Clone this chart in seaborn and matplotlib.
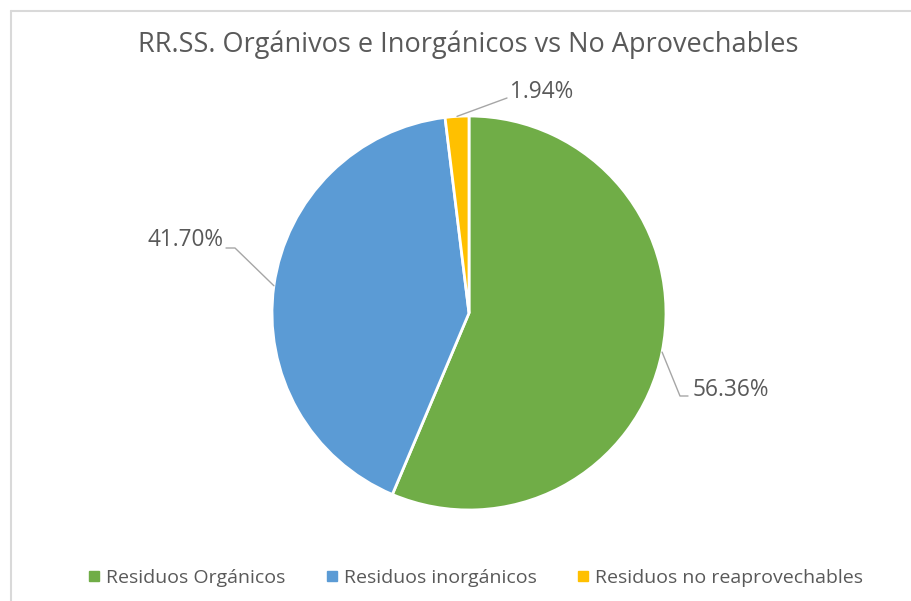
import matplotlib
matplotlib.use("Agg")
import numpy as np
import seaborn as sns
import matplotlib.pyplot as plt
from matplotlib.lines import Line2D

categories = ["Residuos Orgánicos", "Residuos inorgánicos", "Residuos no reaprovechables"]
values = [56.36, 41.70, 1.94]
labels = ["56.36%", "41.70%", "1.94%"]
colors = ["#70AD47", "#5B9BD5", "#FFC000"]

sns.set_style("white")
plt.rcParams['font.family'] = ['Open Sans', 'DejaVu Sans']
txt_color = "#595959"

fig = plt.figure(figsize=(9.11, 6.01), dpi=100)
ax = fig.add_axes([0, 0, 1, 1])

cx, cy, r = 469, 288, 197
wedges, _ = ax.pie(values, colors=colors, startangle=90, counterclock=False,
                   center=(cx, cy), radius=r, frame=True,
                   wedgeprops=dict(edgecolor="white", linewidth=2))
ax.set_xlim(0, 911)
ax.set_ylim(0, 601)
ax.set_aspect('equal')
ax.axis('off')

# label position, elbow of leader line, alignment
label_pos = [((693, 211), [(680, 205), (688, 205)], "left"),
             ((223, 361), [(235, 353), (226, 353)], "right"),
             ((510, 509), [(507, 503)], "left")]

for w, lab, (tpos, elbow, ha) in zip(wedges, labels, label_pos):
    mid = np.deg2rad((w.theta1 + w.theta2) / 2)
    px, py = cx + r * np.cos(mid), cy + r * np.sin(mid)
    xs = [px] + [e[0] for e in elbow]
    ys = [py] + [e[1] for e in elbow]
    ax.plot(xs, ys, color="#A6A6A6", lw=1)
    ax.text(tpos[0], tpos[1], lab, ha=ha, va="center", fontsize=16.3, color=txt_color)

fig.text(468 / 911, 1 - 45 / 601, "RR.SS. Orgánivos e Inorgánicos vs No Aprovechables",
         ha="center", va="center", fontsize=19.5, color=txt_color)

handles = [Line2D([], [], marker="s", ls="", color=c, markersize=7) for c in colors]
fig.legend(handles, categories, loc="center", bbox_to_anchor=(0.521, 1 - 578 / 601),
           ncol=3, frameon=False, fontsize=14, labelcolor=txt_color,
           handletextpad=0.2, columnspacing=2.0, handlelength=0.8)

# chart area frame
fig.add_artist(Line2D([11 / 911, 11 / 911], [0, 1 - 11 / 601], color="#D9D9D9", lw=1.5))
fig.add_artist(Line2D([11 / 911, 1], [1 - 11 / 601, 1 - 11 / 601], color="#D9D9D9", lw=1.5))

plt.savefig("out.png", dpi=100)
